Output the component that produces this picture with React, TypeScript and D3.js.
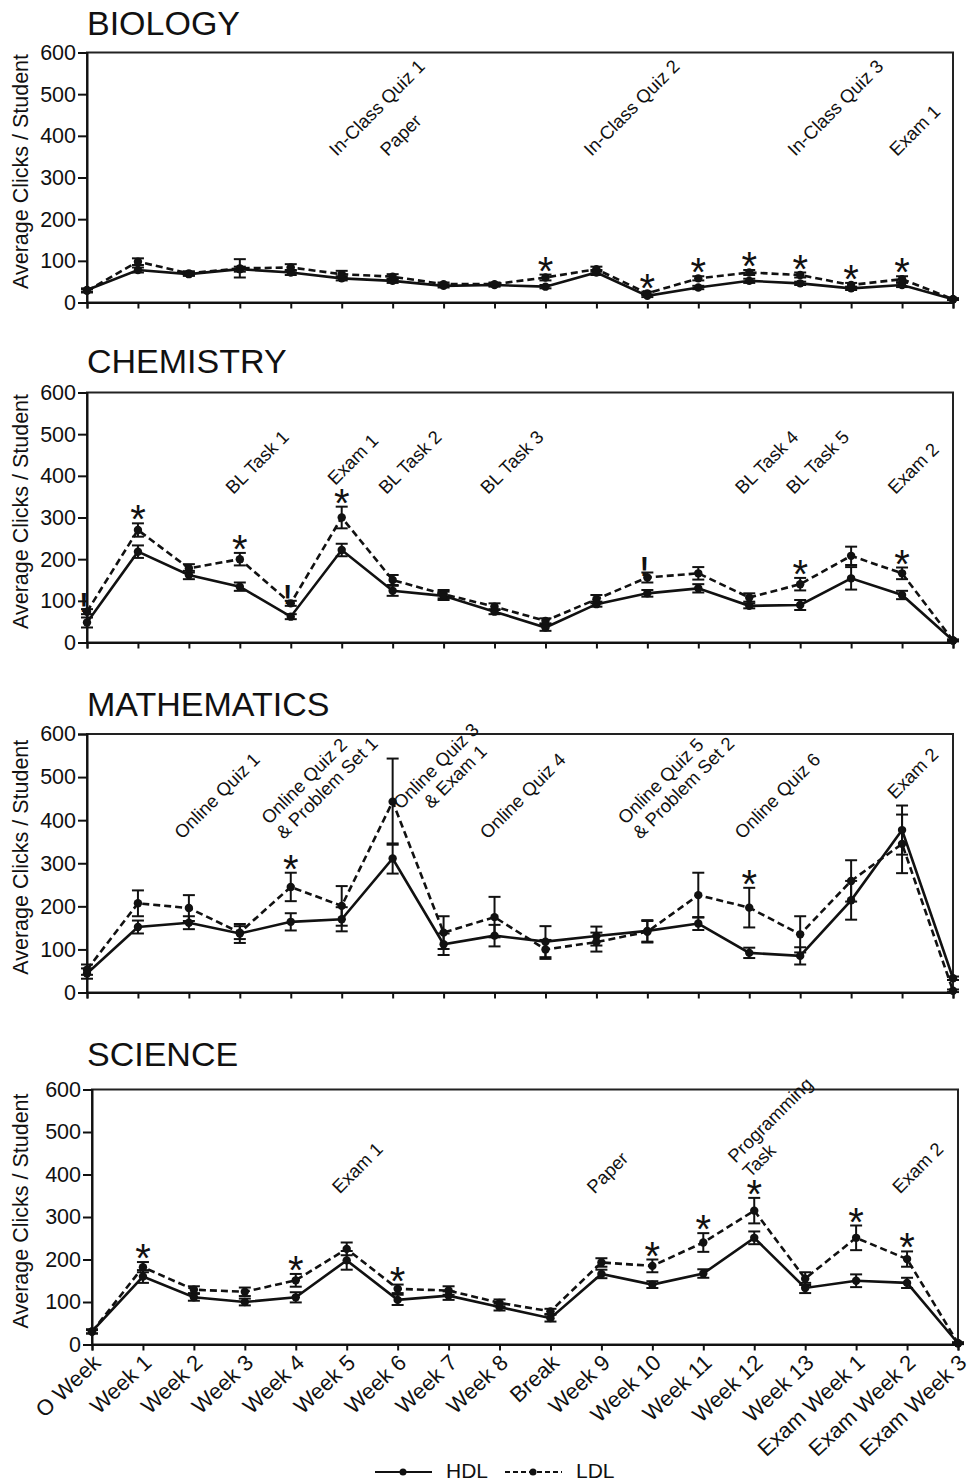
import React, { useEffect, useRef } from 'react'
import * as d3 from 'd3'

const FONT = '"Liberation Sans", Arial, Helvetica, sans-serif'

const categories = ['O Week', 'Week 1', 'Week 2', 'Week 3', 'Week 4', 'Week 5', 'Week 6', 'Week 7', 'Week 8',
  'Break', 'Week 9', 'Week 10', 'Week 11', 'Week 12', 'Week 13', 'Exam Week 1', 'Exam Week 2', 'Exam Week 3']
const yTicks = [0, 100, 200, 300, 400, 500, 600]

// Biology
const bioHDL = [30, 78, 68, 80, 72, 58, 52, 40, 42, 38, 72, 16, 36, 52, 46, 34, 42, 8]
const bioHDLErr = [4, 6, 4, 6, 6, 5, 5, 4, 4, 4, 6, 3, 4, 5, 4, 4, 5, 2]
const bioLDL = [28, 98, 70, 82, 84, 68, 62, 44, 44, 60, 80, 22, 58, 72, 66, 42, 56, 8]
const bioLDLErr = [4, 8, 5, 22, 8, 8, 6, 4, 4, 7, 6, 4, 5, 6, 6, 5, 7, 2]
const bioStars = [9, 11, 12, 13, 14, 15, 16]
const bioNotes = [
  { at: 5, lines: ['In-Class Quiz 1'] },
  { at: 6, lines: ['Paper'] },
  { at: 10, lines: ['In-Class Quiz 2'] },
  { at: 14, lines: ['In-Class Quiz 3'] },
  { at: 16, lines: ['Exam 1'] },
]

// Chemistry
const chemHDL = [48, 218, 162, 134, 62, 222, 124, 112, 74, 36, 92, 118, 130, 88, 90, 154, 114, 5]
const chemHDLErr = [12, 15, 10, 10, 6, 15, 12, 10, 6, 8, 6, 8, 10, 6, 12, 27, 10, 2]
const chemLDL = [74, 270, 178, 200, 94, 300, 150, 116, 86, 52, 104, 156, 166, 108, 140, 208, 166, 5]
const chemLDLErr = [6, 16, 10, 15, 6, 26, 12, 10, 8, 6, 10, 12, 15, 10, 15, 22, 14, 2]
const chemStars = [1, 3, 5, 14, 16]
const chemBangs = [0, 4, 11]
const chemNotes = [
  { at: 3, lines: ['BL Task 1'] },
  { at: 5, lines: ['Exam 1'], dy: -9 },
  { at: 6, lines: ['BL Task 2'] },
  { at: 8, lines: ['BL Task 3'] },
  { at: 13, lines: ['BL Task 4'] },
  { at: 14, lines: ['BL Task 5'] },
  { at: 16, lines: ['Exam 2'] },
]

// Mathematics
const mathHDL = [44, 152, 162, 137, 164, 170, 311, 112, 132, 118, 131, 143, 160, 92, 85, 214, 377, 33]
const mathHDLErr = [12, 15, 15, 22, 20, 28, 35, 25, 25, 36, 22, 25, 15, 12, 20, 45, 57, 4]
const mathLDL = [53, 207, 196, 139, 245, 201, 443, 139, 175, 100, 117, 141, 226, 197, 135, 259, 345, 4]
const mathLDLErr = [12, 30, 30, 15, 33, 46, 100, 38, 47, 22, 22, 25, 52, 46, 42, 48, 68, 3]
const mathStars = [4, 13]
const mathNotes = [
  { at: 2, lines: ['Online Quiz 1'] },
  { at: 4, lines: ['Online Quiz 2', '& Problem Set 1'] },
  { at: 6, lines: ['Online Quiz 3', '& Exam 1'], dx: 30, dy: -15, indent: [0, 22] },
  { at: 8, lines: ['Online Quiz 4'] },
  { at: 11, lines: ['Online Quiz 5', '& Problem Set 2'] },
  { at: 13, lines: ['Online Quiz 6'] },
  { at: 16, lines: ['Exam 2'], dy: -40 },
]

// Science
const sciHDL = [31, 160, 111, 100, 111, 198, 105, 115, 88, 62, 166, 141, 167, 251, 133, 150, 145, 3]
const sciHDLErr = [5, 15, 8, 8, 12, 22, 12, 10, 8, 8, 10, 8, 10, 15, 12, 15, 12, 2]
const sciLDL = [30, 182, 129, 124, 151, 225, 131, 127, 98, 78, 193, 185, 240, 315, 155, 251, 201, 3]
const sciLDLErr = [4, 12, 8, 10, 15, 15, 10, 10, 8, 6, 10, 15, 22, 30, 15, 29, 18, 2]
const sciStars = [1, 4, 6, 11, 12, 13, 15, 16]
const sciNotes = [
  { at: 5, lines: ['Exam 1'] },
  { at: 10, lines: ['Paper'] },
  { at: 13, lines: ['Programming', 'Task'], dx: 3, dy: -16 },
  { at: 16, lines: ['Exam 2'] },
]

const panels = [
  { title: 'BIOLOGY', hdl: bioHDL, hdlErr: bioHDLErr, ldl: bioLDL, ldlErr: bioLDLErr, stars: bioStars, bangs: [], notes: bioNotes,
    box: { left: 87, right: 953, top: 52.5, bottom: 302.5, titleY: 35, noteDx: -5, noteDy: 104.5 } },
  { title: 'CHEMISTRY', hdl: chemHDL, hdlErr: chemHDLErr, ldl: chemLDL, ldlErr: chemLDLErr, stars: chemStars, bangs: chemBangs, notes: chemNotes,
    box: { left: 87, right: 953, top: 392.5, bottom: 642.5, titleY: 373, noteDx: -6.5, noteDy: 102.5 } },
  { title: 'MATHEMATICS', hdl: mathHDL, hdlErr: mathHDLErr, ldl: mathLDL, ldlErr: mathLDLErr, stars: mathStars, bangs: [], notes: mathNotes,
    box: { left: 87, right: 953, top: 734, bottom: 992.5, titleY: 716, noteDx: -7, noteDy: 106 } },
  { title: 'SCIENCE', hdl: sciHDL, hdlErr: sciHDLErr, ldl: sciLDL, ldlErr: sciLDLErr, stars: sciStars, bangs: [], notes: sciNotes,
    box: { left: 92, right: 958, top: 1089.5, bottom: 1344.5, titleY: 1066, noteDx: -7, noteDy: 105 }, xLabels: true },
]

const drawPanel = (svg, p) => {
  const b = p.box
  const x = d3.scalePoint().domain(d3.range(categories.length)).range([b.left, b.right])
  const y = d3.scaleLinear().domain([0, 600]).range([b.bottom, b.top])
  const g = svg.append('g')

  g.append('text')
    .attr('x', 87).attr('y', b.titleY)
    .attr('font-size', 34).attr('font-family', FONT).attr('fill', '#111')
    .text(p.title)

  g.append('text')
    .attr('transform', `translate(28,${(b.top + b.bottom) / 2 - 6}) rotate(-90)`)
    .attr('text-anchor', 'middle')
    .attr('font-size', 21.5).attr('font-family', FONT).attr('fill', '#111')
    .text('Average Clicks / Student')

  // frame
  g.append('rect')
    .attr('x', b.left).attr('y', b.top)
    .attr('width', b.right - b.left).attr('height', b.bottom - b.top)
    .attr('fill', 'none').attr('stroke', '#222').attr('stroke-width', 2)

  const ya = g.append('g').attr('transform', `translate(${b.left},0)`)
    .call(d3.axisLeft(y).tickValues(yTicks).tickSize(9).tickPadding(2).tickFormat(d3.format('d')))
  ya.attr('font-size', 21.5).attr('font-family', FONT)
  ya.selectAll('line, path').attr('stroke', '#111').attr('stroke-width', 2)
  ya.selectAll('text').attr('fill', '#111')

  const xa = g.append('g').attr('transform', `translate(0,${b.bottom})`)
    .call(d3.axisBottom(x).tickSize(6).tickFormat(() => ''))
  xa.selectAll('line, path').attr('stroke', '#111').attr('stroke-width', 2)

  if (p.xLabels) {
    g.selectAll('.xlab').data(categories).enter().append('text')
      .attr('transform', (d, i) => `translate(${x(i) + 10},${b.bottom + 20}) rotate(-43)`)
      .attr('text-anchor', 'end')
      .attr('font-size', 22).attr('font-family', FONT).attr('fill', '#111')
      .text(d => d)
  }

  // annotations
  p.notes.forEach(n => {
    const ng = g.append('g')
      .attr('transform', `translate(${x(n.at) + b.noteDx + (n.dx || 0)},${b.top + b.noteDy + (n.dy || 0)}) rotate(-45)`)
    n.lines.forEach((t, j) => {
      ng.append('text')
        .attr('x', n.indent ? n.indent[j] : 0)
        .attr('y', (j - (n.lines.length - 1)) * 21)
        .attr('font-size', 18.5).attr('font-family', FONT).attr('fill', '#111')
        .text(t)
    })
  })

  const series = [
    { vals: p.hdl, errs: p.hdlErr, dash: null },
    { vals: p.ldl, errs: p.ldlErr, dash: '7,4' },
  ]

  series.forEach(s => {
    const eb = g.append('g').attr('stroke', '#111').attr('stroke-width', 2)
    s.vals.forEach((v, i) => {
      const e = s.errs[i]
      eb.append('line').attr('x1', x(i)).attr('x2', x(i)).attr('y1', y(v - e)).attr('y2', y(v + e))
      eb.append('line').attr('x1', x(i) - 6).attr('x2', x(i) + 6).attr('y1', y(v - e)).attr('y2', y(v - e))
      eb.append('line').attr('x1', x(i) - 6).attr('x2', x(i) + 6).attr('y1', y(v + e)).attr('y2', y(v + e))
    })
  })

  series.forEach(s => {
    const line = d3.line().x((d, i) => x(i)).y(d => y(d))
    g.append('path')
      .attr('d', line(s.vals))
      .attr('fill', 'none').attr('stroke', '#111').attr('stroke-width', 2.6)
      .attr('stroke-dasharray', s.dash)
    g.selectAll(null).data(s.vals).enter().append('circle')
      .attr('cx', (d, i) => x(i)).attr('cy', d => y(d)).attr('r', 4.2).attr('fill', '#111')
  })

  // significance marks
  p.stars.forEach(i => {
    const top = Math.max(p.hdl[i] + p.hdlErr[i], p.ldl[i] + p.ldlErr[i])
    g.append('text')
      .attr('x', x(i)).attr('y', y(top) + 10)
      .attr('text-anchor', 'middle')
      .attr('font-size', 40).attr('font-family', FONT).attr('fill', '#111')
      .text('*')
  })
  p.bangs.forEach(i => {
    g.append('text')
      .attr('x', x(i) - 3).attr('y', y(p.ldl[i] + p.ldlErr[i]) + 3)
      .attr('text-anchor', 'middle')
      .attr('font-size', 28).attr('font-weight', 'bold').attr('font-family', FONT).attr('fill', '#111')
      .text('!')
  })
}

const App = () => {
  const ref = useRef(null)

  useEffect(() => {
    const svg = d3.select(ref.current)
    svg.selectAll('*').remove()
    svg.append('rect').attr('width', 977).attr('height', 1483).attr('fill', '#fff')

    panels.forEach(p => drawPanel(svg, p))

    // legend
    const lg = svg.append('g').attr('font-family', FONT).attr('font-size', 21).attr('fill', '#111')
    const items = [{ name: 'HDL', dash: null, x0: 375 }, { name: 'LDL', dash: '5,3', x0: 505 }]
    items.forEach(it => {
      lg.append('line').attr('x1', it.x0).attr('x2', it.x0 + 57).attr('y1', 1472).attr('y2', 1472)
        .attr('stroke', '#111').attr('stroke-width', 2).attr('stroke-dasharray', it.dash)
      lg.append('circle').attr('cx', it.x0 + 28).attr('cy', 1472).attr('r', 3.5).attr('fill', '#111')
      lg.append('text').attr('x', it.x0 + 71).attr('y', 1478).text(it.name)
    })
  }, [])

  return (
    <svg ref={ref} width={977} height={1483} style={{ position: 'absolute', left: 0, top: 0 }} />
  )
}

export default App
